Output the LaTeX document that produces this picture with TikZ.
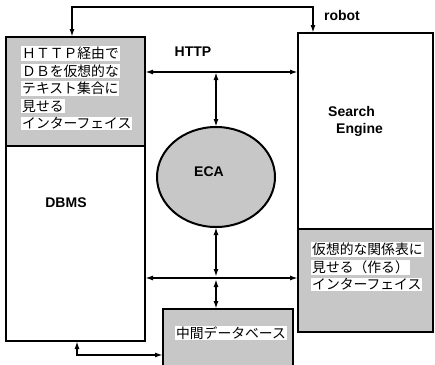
\documentclass[tikz,border=0pt]{standalone}
\usepackage{fontspec}
\setmainfont{Liberation Sans}
\newfontfamily\jp{Noto Sans CJK JP}
\usetikzlibrary{arrows.meta,shapes.geometric}
\setlength{\fboxsep}{1pt}
\begin{document}
\begin{tikzpicture}[x=1pt,y=-1pt,
  box/.style={draw, line width=2pt, inner sep=0pt, outer sep=0pt},
  shaded/.style={fill=black!22},
  lbl/.style={font=\fontsize{14}{17}\selectfont\bfseries, inner sep=0pt},
  jtxt/.style={font=\jp\fontsize{13.8}{17.5}\selectfont, align=left, inner sep=0pt},
  conn/.style={line width=1.8pt, {Latex[length=8pt,width=5pt]}-{Latex[length=8pt,width=5pt]}}
]
\clip (0,0) rectangle (435,364);
\fill[white] (0,0) rectangle (435,364);
% boxes
\node[box, shaded, anchor=north west, minimum width=139pt, minimum height=109pt] (ltop) at (6,37) {};
\node[box, anchor=north west, minimum width=139pt, minimum height=195pt] (dbms) at (6,146) {};
\node[box, anchor=north west, minimum width=135pt, minimum height=196pt] (se) at (298,33) {};
\node[box, shaded, anchor=north west, minimum width=135pt, minimum height=103pt] (ri) at (298,229) {};
\node[box, shaded, ellipse, minimum width=118pt, minimum height=100pt] (eca) at (216,177) {};
\node[box, shaded, anchor=north west, minimum width=130pt, minimum height=70pt] (mid) at (163,309) {};
% texts
\node[jtxt, anchor=north west] (t1) at (21,46) {\colorbox{white}{ＨＴＴＰ経由で}\\\colorbox{white}{ＤＢを仮想的な}\\\colorbox{white}{テキスト集合に}\\\colorbox{white}{見せる}\\\colorbox{white}{インターフェイス}};
\node[jtxt, anchor=north west] (t2) at (311,242) {\colorbox{white}{仮想的な関係表に}\\\colorbox{white}{見せる（作る）}\\\colorbox{white}{インターフェイス}};
\node[jtxt] (t3) at (231,333) {\colorbox{white}{中間データベース}};
\node[lbl] (lhttp) at (193,52) {HTTP};
\node[lbl] (lrobot) at (342,15) {robot};
\node[lbl, align=left, anchor=north west] (lse) at (328,106) {Search\\\hspace*{8pt}Engine};
\node[lbl] (ldbms) at (66,203) {DBMS};
\node[lbl] (leca) at (209,172) {ECA};
% connector coordinates
\coordinate (rA) at (72,7);
\coordinate (rB) at (313,7);
\coordinate (h) at (216,72);
\coordinate (m) at (216,278);
\coordinate (bA) at (77,355);
% connectors
\draw[conn] (ltop.north -| rA) |- (rB) -- (se.north -| rB);
\draw[conn] (ltop.east |- h) -- (se.west |- h);
\draw[conn] (h) -- (eca.north);
\draw[conn] (dbms.east |- m) -- (ri.west |- m);
\draw[conn, shorten >=1pt] (eca.south) -- (m);
\draw[conn, shorten <=1pt] (m) -- (mid.north -| m);
\draw[conn] (dbms.south -| bA) |- (mid.west |- bA);
\end{tikzpicture}
\end{document}
